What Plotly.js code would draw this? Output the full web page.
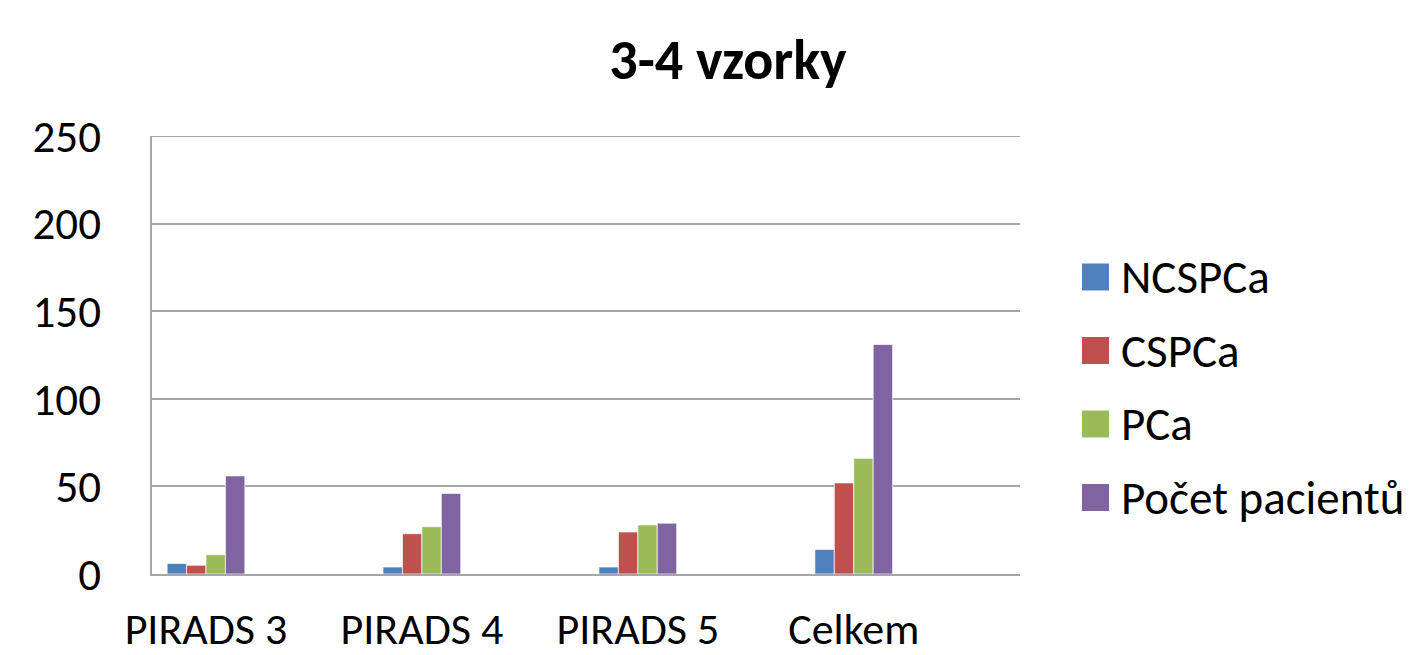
<!DOCTYPE html>
<html>
<head>
<meta charset="utf-8">
<script src="https://cdn.plot.ly/plotly-3.0.1.min.js"></script>
<style>html,body{margin:0;padding:0;background:#fff;}#chart{width:1421px;height:655px;}</style>
</head>
<body>
<div id="chart"></div>
<script>
const categories = ["PIRADS 3", "PIRADS 4", "PIRADS 5", "Celkem"];
const seriesNames = ["NCSPCa", "CSPCa", "PCa", "Počet pacientů"];
const ncspca = [6, 4, 4, 14];
const cspca = [5, 23, 24, 52];
const pca = [11, 27, 28, 66];
const pocet = [56, 46, 29, 131];
const colors = ["#4F81BD", "#C0504D", "#9BBB59", "#8064A2"];
const yTicks = [0, 50, 100, 150, 200, 250];

const FONT = "Carlito, Calibri, Lato, 'Open Sans', sans-serif";
const values = [ncspca, cspca, pca, pocet];

const traces = values.map((v, i) => ({
  type: "bar",
  x: categories,
  y: v,
  name: seriesNames[i],
  marker: { color: colors[i], line: { color: "rgba(255,255,255,0.7)", width: 1 } },
  showlegend: false,
  hoverinfo: "x+y+name"
}));

// custom legend (large squares like the reference)
const shapes = [];
const annotations = [];
const legTop = 277, legStep = 73.5;
seriesNames.forEach((n, i) => {
  const cy = legTop + i * legStep;
  shapes.push({
    type: "rect", xref: "paper", yref: "paper",
    x0: (1082 - 152) / 868, x1: (1109 - 152) / 868,
    y0: (574 - (cy + 13.5)) / 438, y1: (574 - (cy - 13.5)) / 438,
    fillcolor: colors[i], line: { width: 0 }
  });
  annotations.push({
    xref: "paper", yref: "paper",
    x: (1119 - 152) / 868, y: (574 - cy) / 438,
    xanchor: "left", yanchor: "middle",
    text: n, showarrow: false,
    font: { family: FONT, size: 47, color: "#000" }
  });
});
// top gridline at 250 (plotly hides the gridline lying on the range edge)
shapes.push({
  type: "line", xref: "paper", yref: "y", x0: 0, x1: 1, y0: 250, y1: 250,
  line: { color: "#a6a6a6", width: 2 }
});

const layout = {
  width: 1421, height: 655,
  paper_bgcolor: "#fff", plot_bgcolor: "#fff",
  margin: { l: 152, r: 401, t: 136, b: 81, pad: 0 },
  barmode: "group", bargap: 0.64, bargroupgap: 0,
  title: {
    text: "<b>3-4 vzorky</b>",
    x: 728 / 1421, xanchor: "center", xref: "container",
    y: 1 - 59 / 655, yanchor: "middle", yref: "container",
    font: { family: FONT, size: 56, color: "#000" }
  },
  xaxis: {
    type: "category",
    range: [-0.25, 3.77],
    showgrid: false, zeroline: false,
    showline: true, linecolor: "#a6a6a6", linewidth: 2,
    ticks: "", ticklabelstandoff: 15,
    tickfont: { family: FONT, size: 44, color: "#000" },
    fixedrange: true
  },
  yaxis: {
    range: [0, 250],
    tickvals: yTicks, ticktext: yTicks.map(String),
    showgrid: true, gridcolor: "#a6a6a6", gridwidth: 2,
    zeroline: false,
    showline: true, linecolor: "#a6a6a6", linewidth: 2,
    ticks: "", ticklabelstandoff: 40,
    tickfont: { family: FONT, size: 45, color: "#000" },
    fixedrange: true
  },
  shapes: shapes,
  annotations: annotations,
  showlegend: false
};

Plotly.newPlot("chart", traces, layout, { displayModeBar: false, staticPlot: true });
</script>
</body>
</html>
